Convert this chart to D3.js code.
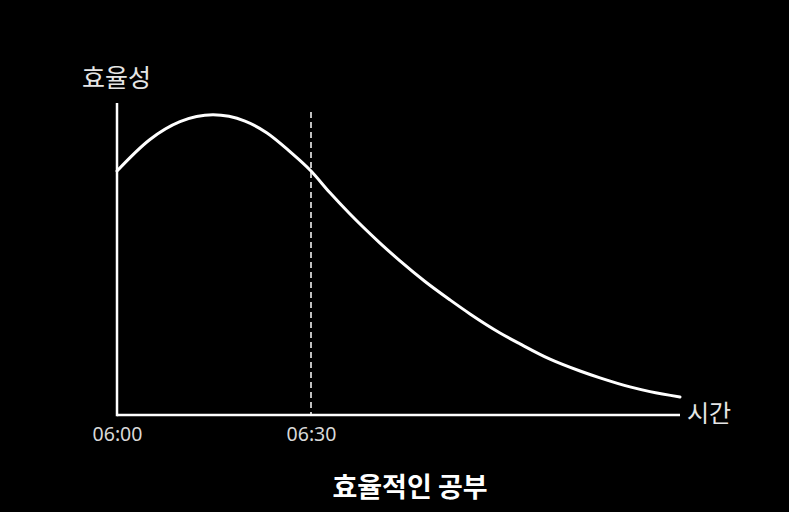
<!DOCTYPE html>
<html><head><meta charset="utf-8">
<script src="https://cdn.jsdelivr.net/npm/d3@7"></script>
<style>
html,body{margin:0;padding:0;background:#000;}
svg{display:block;}
text{font-family:"Noto Sans CJK KR","Noto Sans",sans-serif;}
</style></head>
<body>
<svg id="chart" width="789" height="512"></svg>
<script>
// minutes after 06:00
const minutes = [0, 5.10, 9.74, 14.85, 19.79, 23.20, 26.75, 30.0, 32.94, 36.03, 40.67, 43.76, 47.63, 51.49, 54.59, 59.23, 62.32, 66.96, 71.60, 74.69, 79.33, 82.42, 87.06];
const efficiency = [78.2, 88.3, 94.0, 96.2, 94.2, 90.4, 84.4, 78.2, 71.2, 64.4, 55.1, 49.4, 42.8, 36.9, 32.4, 26.3, 22.8, 17.9, 14.1, 11.9, 9.0, 7.5, 5.8];
const tickMinutes = [0, 30];
const tickLabels = ["06:00", "06:30"];
const markerMinute = 30;
const yLabel = "효율성";
const xLabel = "시간";
const title = "효율적인 공부";

const svg = d3.select("#chart");
const x = d3.scaleLinear().domain([0, 30]).range([117, 311]);
const y = d3.scaleLinear().domain([0, 100]).range([415, 103]);
const xEnd = 680;

// axes
const xAxis = d3.axisBottom(x).tickValues(tickMinutes).tickFormat((d,i)=>tickLabels[i]).tickSize(0).tickPadding(12);
const gx = svg.append("g").attr("transform", `translate(0,${y(0)})`).call(xAxis);
gx.select(".domain").remove();
gx.selectAll("text").attr("fill", "#d9d9d9").attr("font-size", 19.5).attr("dy", "0.71em")
  .style("font-family", '"Noto Sans","Noto Sans CJK KR",sans-serif');

svg.append("line").attr("x1", x(0)).attr("x2", xEnd).attr("y1", y(0)).attr("y2", y(0))
  .attr("stroke", "#fff").attr("stroke-width", 2.5);
svg.append("line").attr("x1", x(0)).attr("x2", x(0)).attr("y1", y(0) + 1.25).attr("y2", y(100))
  .attr("stroke", "#fff").attr("stroke-width", 2.5);

// dashed marker
svg.append("line").attr("x1", x(markerMinute)).attr("x2", x(markerMinute))
  .attr("y1", 112).attr("y2", y(0))
  .attr("stroke", "#fff").attr("stroke-width", 1.5).attr("stroke-dasharray", "6,4");

// curve
const data = minutes.map((m,i)=>({m, v: efficiency[i]}));
const line = d3.line().x(d=>x(d.m)).y(d=>y(d.v)).curve(d3.curveMonotoneX);
svg.append("path").datum(data).attr("d", line).attr("fill", "none")
  .attr("stroke", "#fff").attr("stroke-width", 3).attr("stroke-linecap", "round");

// labels
svg.append("text").attr("x", 82).attr("y", 87).attr("fill", "#e6e6e6").attr("font-size", 25).text(yLabel);
svg.append("text").attr("x", 687).attr("y", 422).attr("fill", "#e6e6e6").attr("font-size", 24).text(xLabel);
svg.append("text").attr("x", 410).attr("y", 497).attr("text-anchor", "middle").attr("fill", "#fff")
  .attr("font-size", 27).attr("font-weight", "bold").text(title);
</script>
</body></html>
